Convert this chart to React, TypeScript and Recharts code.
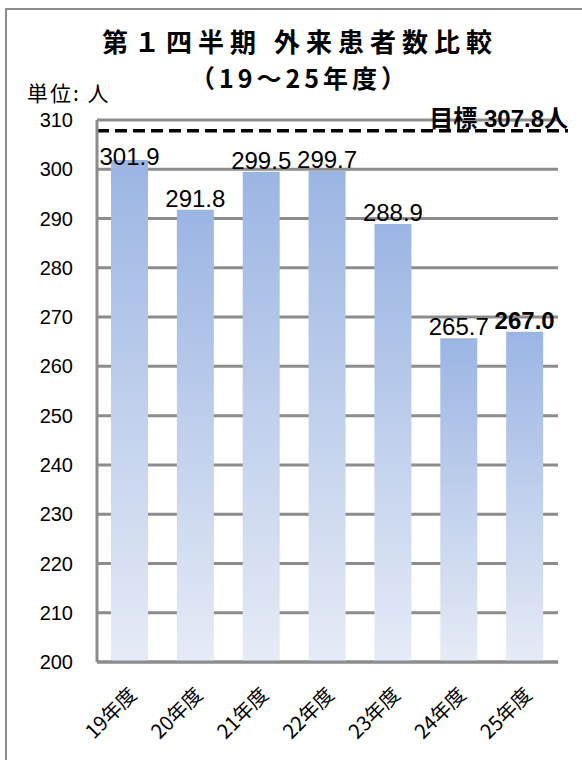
import React from 'react';
import { BarChart, Bar, XAxis, YAxis, CartesianGrid, ReferenceLine, LabelList } from 'recharts';

const years = ['19年度', '20年度', '21年度', '22年度', '23年度', '24年度', '25年度'];
const visitors = [301.9, 291.8, 299.5, 299.7, 288.9, 265.7, 267.0];
const yTicks = [200, 210, 220, 230, 240, 250, 260, 270, 280, 290, 300, 310];
const target = 307.8;
const titleLine1 = '第１四半期 外来患者数比較';
const titleLine2 = '（19～25年度）';
const unitLabel = '単位: 人';

const data = years.map((year, i) => ({ year, value: visitors[i] }));

const GRID = '#8c8c8c';
const NUM_FONT = "'Liberation Sans', Arial, 'Noto Sans CJK JP', sans-serif";
const CJK_FONT = "'Noto Sans CJK JP', 'Liberation Sans', sans-serif";

const XTick = (props: any) => {
  const { x, y, payload } = props;
  return (
    <g transform={`translate(${x + 8},${y + 26})`}>
      <text x={0} y={0} transform="rotate(-45)" textAnchor="end" fontSize={20} fontFamily={CJK_FONT} fill="#000">
        {payload.value}
      </text>
    </g>
  );
};

const BarLabel = (props: any) => {
  const { x, y, width, value, index } = props;
  const isLast = index === visitors.length - 1;
  return (
    <text
      x={x + width / 2}
      y={Math.max(y - 3, 165)}
      textAnchor="middle"
      fontSize={24}
      fontFamily={NUM_FONT}
      fontWeight={isLast ? 'bold' : 'normal'}
      fill="#000"
    >
      {Number(value).toFixed(1)}
    </text>
  );
};

const TargetShape = (p: any) => (
  <line x1={p.x1} y1={p.y1} x2={p.x2 + 10} y2={p.y2} stroke="#000" strokeWidth={3.5} strokeDasharray="12 6" />
);

const TargetLabel = (p: any) => {
  const vb = p.viewBox || {};
  return (
    <text x={vb.x + vb.width + 10} y={vb.y - 4} textAnchor="end" fontSize={24} fontWeight="bold" fontFamily={NUM_FONT} fill="#000">
      {`目標 ${target}人`}
    </text>
  );
};

export default function App() {
  return (
    <div style={{ position: 'absolute', left: 0, top: 0, width: 582, height: 760, overflow: 'hidden', background: '#fff' }}>
      <div style={{ position: 'absolute', left: 5, top: 8, width: 700, height: 900, border: `2px solid ${GRID}`, boxSizing: 'border-box' }} />
      <div style={{ position: 'absolute', left: 0, width: 600, top: 28, textAlign: 'center', fontFamily: CJK_FONT, fontWeight: 'bold', fontSize: 26, lineHeight: '26px', letterSpacing: 6, color: '#000' }}>
        {titleLine1}
      </div>
      <div style={{ position: 'absolute', left: 0, width: 600, top: 65, textAlign: 'center', fontFamily: CJK_FONT, fontWeight: 'bold', fontSize: 25, lineHeight: '25px', letterSpacing: 4, color: '#000' }}>
        {titleLine2}
      </div>
      <div style={{ position: 'absolute', left: 27, top: 82, fontFamily: CJK_FONT, fontSize: 21, lineHeight: '21px', letterSpacing: 2, color: '#000' }}>
        {unitLabel}
      </div>
      <div style={{ position: 'absolute', left: 0, top: 0 }}>
        <BarChart width={582} height={760} data={data} margin={{ top: 120, right: 24, left: 0, bottom: 0 }}>
          <defs>
            <linearGradient id="barGrad" x1="0" y1="0" x2="0" y2="1">
              <stop offset="0%" stopColor="#9bb5e3" />
              <stop offset="100%" stopColor="#e6ebf6" />
            </linearGradient>
          </defs>
          <CartesianGrid vertical={false} stroke={GRID} strokeWidth={3} />
          <XAxis
            dataKey="year"
            interval={0}
            height={98}
            tickLine={false}
            axisLine={{ stroke: GRID, strokeWidth: 3 }}
            tick={<XTick />}
          />
          <YAxis
            domain={[200, 310]}
            ticks={yTicks}
            width={97}
            tickLine={false}
            tickSize={0}
            tickMargin={24}
            axisLine={{ stroke: GRID, strokeWidth: 3 }}
            tick={{ fontSize: 20, fill: '#000', fontFamily: NUM_FONT }}
            allowDataOverflow
          />
          <Bar dataKey="value" fill="url(#barGrad)" barSize={37} isAnimationActive={false}>
            <LabelList dataKey="value" content={<BarLabel />} />
          </Bar>
          <ReferenceLine y={target} shape={<TargetShape />} label={<TargetLabel />} />
        </BarChart>
      </div>
    </div>
  );
}
